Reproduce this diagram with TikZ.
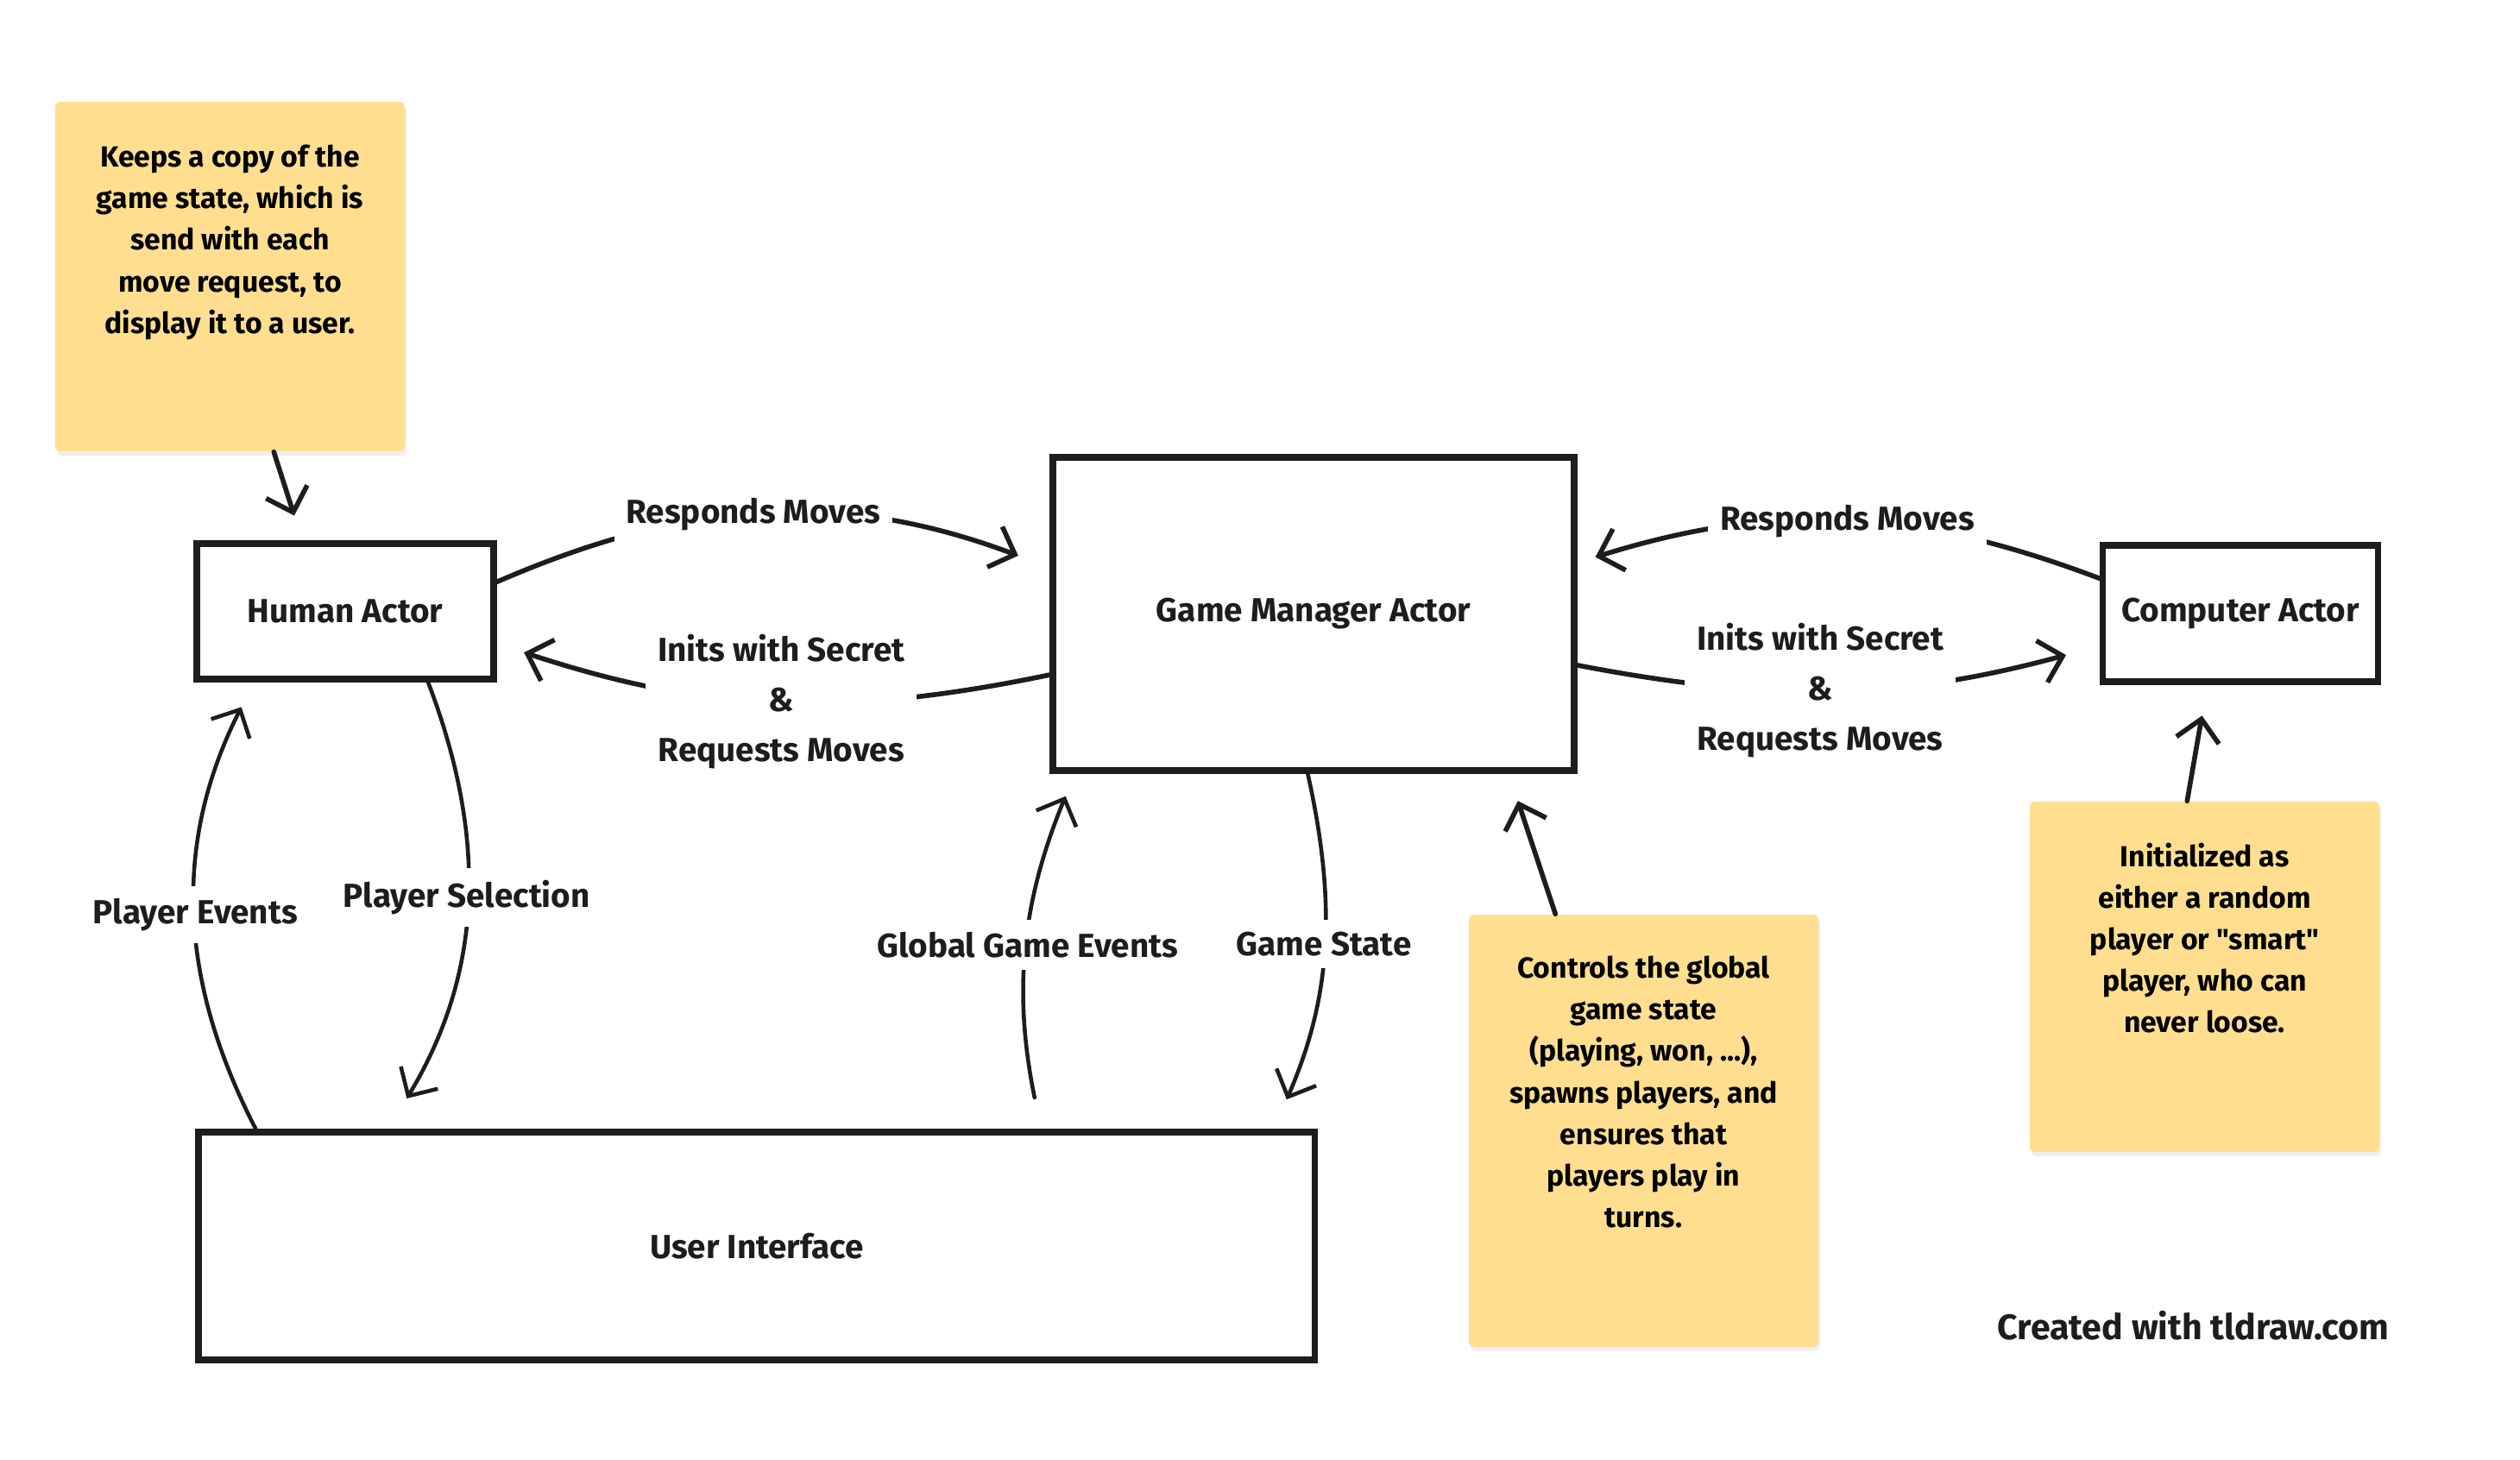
\documentclass[tikz,border=0pt]{standalone}
\usepackage{fontspec}
\setmainfont{Fira Sans}[Ligatures=TeXOff]
\usetikzlibrary{positioning}
\usetikzlibrary{arrows.meta}
\usetikzlibrary{shadows}
\definecolor{ink}{HTML}{1D1D1D}
\definecolor{sticky}{HTML}{FFDF8F}
\newcommand{\edgefont}{\bfseries\fontsize{11}{16.5}\selectfont}
\newcommand{\stickyfont}{\bfseries\fontsize{9.6}{13.7}\selectfont}
\tikzset{
  actor/.style={draw=ink, line width=2.2pt, inner sep=0pt, font=\edgefont, text=ink},
  sticky note/.style={fill=sticky, rounded corners=0.06cm, inner sep=0pt, minimum width=4.05cm,
    drop shadow={shadow xshift=0.02cm, shadow yshift=-0.05cm, opacity=0.12}},
  flow/.style={draw=ink, line width=1.6pt, line cap=round, -{Straight Barb[length=2.5mm,width=5mm]}},
  thin flow/.style={flow, line width=1.3pt},
  flowlabel/.style={fill=white, inner sep=0.14cm, font=\edgefont, text=ink, align=center},
}

\begin{document}
\begin{tikzpicture}
\useasboundingbox[fill=white] (0,0) rectangle (29.2,-16.92);
% actors
\node[actor, minimum width=3.44cm, minimum height=1.57cm] (human) at (4.00,-7.085) {Human Actor};
\node[actor, minimum width=6.035cm, minimum height=3.63cm] (manager) at (15.22,-7.115) {Game Manager Actor};
\node[actor, minimum width=3.19cm, minimum height=1.58cm] (computer) at (25.96,-7.11) {Computer Actor};
\node[actor, minimum width=12.935cm, minimum height=2.64cm] (ui) at (8.768,-14.44) {User Interface};
% sticky notes
\node[sticky note, minimum height=4.05cm] (copynote) at (2.665,-3.205) {\parbox[c][3.05cm][t]{3.9cm}{\centering\stickyfont
  Keeps a copy of the\\ game state, which is\\ send with each\\ move request, to\\ display it to a user.}};
\node[sticky note, minimum height=5.01cm] (managernote) at (19.045,-13.105) {\parbox[c][4.05cm][t]{3.9cm}{\centering\stickyfont
  Controls the global\\ game state\\ (playing, won, ...),\\ spawns players, and\\ ensures that\\ players play in\\ turns.}};
\node[sticky note, minimum height=4.06cm] (computernote) at (25.545,-11.32) {\parbox[c][3.1cm][t]{3.9cm}{\centering\stickyfont
  Initialized as\\ either a random\\ player or "smart"\\ player, who can\\ never loose.}};
\node[font=\bfseries\fontsize{11.7}{14}\selectfont, text=ink] (credit) at (25.415,-15.36) {Created with tldraw.com};
% note pointers
\draw[flow, shorten >=0.3cm] ([xshift=2.54cm]copynote.south west) -- ([xshift=1.26cm]human.north west);
\draw[flow, shorten >=0.33cm] ([xshift=1.01cm]managernote.north west) -- ([xshift=5.32cm]manager.south west);
\draw[flow, shorten >=0.36cm] ([xshift=1.83cm]computernote.north west) -- ([xshift=1.25cm]computer.south west);
% messages between actors
\draw[flow, shorten >=0.39cm] (human.11) to[bend left=22] node[flowlabel, pos=0.465] {Responds Moves} (manager.170);
\draw[flow, shorten >=0.33cm] (manager.193) to[bend left=15] node[flowlabel, pos=0.48] {Inits with Secret\\ \&\\ Requests Moves} (human.-12);
\draw[flow, shorten >=0.22cm] (computer.166) to[bend right=19] node[flowlabel, pos=0.485] {Responds Moves} (manager.11);
\draw[flow, shorten >=0.4cm] (manager.-11) to[bend right=13] node[flowlabel, pos=0.46] {Inits with Secret\\ \&\\ Requests Moves} (computer.193);
% user interface
\draw[thin flow, shorten >=0.32cm] ([xshift=0.7cm]ui.north west) to[bend left=27] node[flowlabel, pos=0.48] {Player Events} ([xshift=0.7cm]human.south west);
\draw[thin flow, shorten >=0.41cm] ([xshift=2.72cm]human.south west) to[bend left=26] node[flowlabel, pos=0.47] {Player Selection} ([xshift=2.24cm]ui.north west);
\draw[thin flow, shorten <=0.37cm, shorten >=0.28cm] ([xshift=9.8cm]ui.north west) to[bend left=17] node[flowlabel, pos=0.51] {Global Game Events} ([xshift=0.29cm]manager.south west);
\draw[thin flow, shorten >=0.37cm] ([xshift=2.99cm]manager.south west) to[bend left=18] node[flowlabel, pos=0.47] {Game State} ([xshift=12.5cm]ui.north west);
\end{tikzpicture}
\end{document}
